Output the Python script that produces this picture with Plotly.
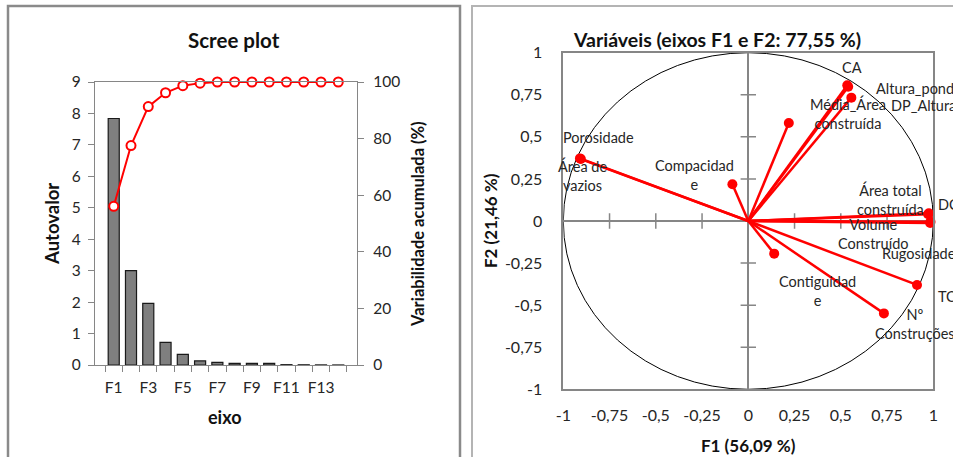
import plotly.graph_objects as go

# ---------------- data ----------------
eixos = ["F1", "F2", "F3", "F4", "F5", "F6", "F7", "F8", "F9", "F10", "F11", "F12", "F13", "F14"]
eixo_labels = ["F1", "", "F3", "", "F5", "", "F7", "", "F9", "", "F11", "", "F13", ""]
autovalor = [7.84, 3.00, 1.96, 0.72, 0.34, 0.13, 0.085, 0.05, 0.05, 0.05, 0.01, 0.006, 0.003, 0.001]
var_acum = [56.09, 77.55, 91.3, 96.2, 98.7, 99.6, 100, 100, 100, 100, 100, 100, 100, 100]

variaveis = ["Porosidade", "Área de vazios", "Compacidade", "Média_Área construída", "CA",
             "Altura_pond", "DP_Altura", "Área total construída", "DC", "Volume Construído",
             "Rugosidade", "TC", "Nº Construções", "Contiguidade"]
f1 = [-0.910, -0.905, -0.086, 0.219, 0.535, 0.540, 0.557, 0.972, 0.976, 0.985, 0.983, 0.912, 0.733, 0.140]
f2 = [0.372, 0.368, 0.218, 0.582, 0.806, 0.798, 0.733, 0.040, 0.046, -0.004, -0.012, -0.380, -0.549, -0.194]

y1_ticks = [0, 1, 2, 3, 4, 5, 6, 7, 8, 9]
y2_ticks = [0, 20, 40, 60, 80, 100]
corr_ticks = [-1, -0.75, -0.5, -0.25, 0, 0.25, 0.5, 0.75, 1]
corr_ticktext = ["-1", "-0,75", "-0,5", "-0,25", "0", "0,25", "0,5", "0,75", "1"]
inner_ticks = [-0.75, -0.5, -0.25, 0.25, 0.5, 0.75]

# label text and placement (layout only): text, x, y, anchor, pixel shift
label_layout = [
    ("Porosidade", -0.808, 0.495, "center", 0),
    ("Área de<br>vazios", -0.894, 0.269, "center", 0),
    ("Compacidad<br>e", -0.289, 0.275, "center", 0),
    ("Média_Área<br>construída", 0.537, 0.640, "center", 0),
    ("CA", 0.562, 0.913, "center", 0),
    ("Altura_pond", 0.679, 0.788, "left", 0),
    ("DP_Altura", 0.759, 0.687, "left", 0),
    ("Área total<br>construída", 0.768, 0.127, "center", 0),
    ("DC", 1.0, 0.101, "left", 3),
    ("Volume<br>Construído", 0.677, -0.077, "center", 0),
    ("Rugosidade", 0.713, -0.192, "left", 0),
    ("TC", 1.0, -0.450, "left", 3),
    ("Nº<br>Construções", 0.899, -0.612, "center", 0),
    ("Contiguidad<br>e", 0.375, -0.414, "center", 0),
]

W, H = 953, 457
FONT = "Lato, 'Open Sans', sans-serif"
GRAY = "#868686"
RED = "#ff0000"
TXT = "#262626"


def px(x):
    return x / W


def py(y):
    return 1 - y / H


fig = go.Figure()

# ---------------- scree plot ----------------
fig.add_trace(go.Bar(x=eixos, y=autovalor, marker=dict(color="#7f7f7f", line=dict(color="#1a1a1a", width=1.2)),
                     xaxis="x", yaxis="y", showlegend=False))
fig.add_trace(go.Scatter(x=eixos, y=var_acum, mode="lines+markers",
                         line=dict(color=RED, width=2),
                         marker=dict(symbol="circle", size=9, color="white", line=dict(color=RED, width=2)),
                         xaxis="x", yaxis="y2", showlegend=False, cliponaxis=False))

# ---------------- correlation circle ----------------
vx, vy = [], []
for a, b in zip(f1, f2):
    vx += [0, a, None]
    vy += [0, b, None]
fig.add_trace(go.Scatter(x=inner_ticks, y=[0] * len(inner_ticks), mode="markers",
                         marker=dict(symbol="line-ns", size=11, line=dict(color=GRAY, width=1.5)),
                         xaxis="x3", yaxis="y3", showlegend=False, hoverinfo="skip"))
fig.add_trace(go.Scatter(x=[0] * len(inner_ticks), y=inner_ticks, mode="markers",
                         marker=dict(symbol="line-ew", size=11, line=dict(color=GRAY, width=1.5)),
                         xaxis="x3", yaxis="y3", showlegend=False, hoverinfo="skip"))
fig.add_trace(go.Scatter(x=vx, y=vy, mode="lines", line=dict(color=RED, width=2.5),
                         xaxis="x3", yaxis="y3", showlegend=False, hoverinfo="skip"))
fig.add_trace(go.Scatter(x=f1, y=f2, mode="markers", text=variaveis,
                         marker=dict(color=RED, size=10),
                         xaxis="x3", yaxis="y3", showlegend=False, cliponaxis=False))

annotations = []
for txt, ax, ay, anc, sh in label_layout:
    annotations.append(dict(text=txt, x=ax, y=ay, xref="x3", yref="y3", xanchor=anc, yanchor="middle",
                            xshift=sh, showarrow=False, align="center",
                            font=dict(family=FONT, size=14.5, color=TXT)))

# titles
annotations += [
    dict(text="<b>Scree plot</b>", x=px(234), y=py(40), xref="paper", yref="paper", showarrow=False,
         xanchor="center", yanchor="middle", font=dict(family=FONT, size=20.5, color="#111")),
    dict(text="<b>eixo</b>", x=px(225), y=py(417), xref="paper", yref="paper", showarrow=False,
         xanchor="center", yanchor="middle", font=dict(family=FONT, size=18, color="#111")),
    dict(text="<b>Autovalor</b>", x=px(52), y=py(224), xref="paper", yref="paper", showarrow=False,
         textangle=-90, xanchor="center", yanchor="middle", font=dict(family=FONT, size=18.5, color="#111")),
    dict(text="<b>Variabilidade acumulada (%)</b>", x=px(418), y=py(224), xref="paper", yref="paper",
         showarrow=False, textangle=-90, xanchor="center", yanchor="middle",
         font=dict(family=FONT, size=16.5, color="#111")),
    dict(text="<b>Variáveis (eixos F1 e F2: 77,55 %)</b>", x=px(717), y=py(39), xref="paper", yref="paper",
         showarrow=False, xanchor="center", yanchor="middle", font=dict(family=FONT, size=19.5, color="#111")),
    dict(text="<b>F1 (56,09 %)</b>", x=px(748), y=py(445), xref="paper", yref="paper", showarrow=False,
         xanchor="center", yanchor="middle", font=dict(family=FONT, size=17, color="#111")),
    dict(text="<b>F2 (21,46 %)</b>", x=px(490), y=py(221), xref="paper", yref="paper", showarrow=False,
         textangle=-90, xanchor="center", yanchor="middle", font=dict(family=FONT, size=17, color="#111")),
]

shapes = [
    # panel frames
    dict(type="rect", xref="paper", yref="paper", x0=px(8), x1=px(460), y0=-0.1, y1=py(6),
         line=dict(color="#8a8a8a", width=2.5), layer="below"),
    dict(type="rect", xref="paper", yref="paper", x0=px(472), x1=1.1, y0=-0.1, y1=py(6),
         line=dict(color="#b4b4b4", width=2), layer="below"),
    # unit circle
    dict(type="circle", xref="x3", yref="y3", x0=-1, x1=1, y0=-1, y1=1,
         line=dict(color="#000000", width=1), layer="below"),
]

tickfont = dict(family=FONT, size=15.5, color=TXT)

fig.update_layout(
    template="none",
    width=W, height=H, margin=dict(l=0, r=0, t=0, b=0, autoexpand=False),
    paper_bgcolor="white", plot_bgcolor="rgba(0,0,0,0)",
    bargap=0.36, showlegend=False,
    annotations=annotations, shapes=shapes,
    xaxis=dict(domain=[px(95), px(357)], anchor="y", type="category", automargin=False, tickangle=0,
               tickmode="array", tickvals=eixos, ticktext=eixo_labels, tickson="boundaries",
               ticks="outside", ticklen=6, tickcolor=GRAY, tickwidth=1.3,
               showline=True, linecolor=GRAY, linewidth=1.3, mirror=True,
               showgrid=False, tickfont=tickfont, ticklabelstandoff=8),
    yaxis=dict(domain=[py(365), py(82)], anchor="x", range=[0, 9], tickmode="array", tickvals=y1_ticks,
               automargin=False,
               ticks="outside", ticklen=6, tickcolor=GRAY, tickwidth=1.3,
               showline=True, linecolor=GRAY, linewidth=1.3, showgrid=False, zeroline=False,
               tickfont=tickfont, ticklabelstandoff=4),
    yaxis2=dict(overlaying="y", anchor="x", side="right", range=[0, 100], tickmode="array", tickvals=y2_ticks,
                automargin=False,
                ticks="outside", ticklen=6, tickcolor=GRAY, tickwidth=1.3,
                showline=True, linecolor=GRAY, linewidth=1.3, showgrid=False, zeroline=False,
                tickfont=tickfont, ticklabelstandoff=6),
    xaxis3=dict(domain=[px(563.3), px(933.3)], anchor="y3", range=[-1, 1], tickmode="array",
                automargin=False, tickangle=0,
                tickvals=corr_ticks, ticktext=corr_ticktext, ticks="",
                showline=True, linecolor=GRAY, linewidth=1.5, mirror=True, showgrid=False,
                zeroline=True, zerolinecolor=GRAY, zerolinewidth=1.5,
                tickfont=dict(family=FONT, size=16, color=TXT), ticklabelstandoff=11),
    yaxis3=dict(domain=[py(389.3), py(52.7)], anchor="x3", range=[-1, 1], tickmode="array",
                automargin=False,
                tickvals=corr_ticks, ticktext=corr_ticktext, ticks="",
                showline=True, linecolor=GRAY, linewidth=1.5, mirror=True, showgrid=False,
                zeroline=True, zerolinecolor=GRAY, zerolinewidth=1.5,
                tickfont=dict(family=FONT, size=16, color=TXT), ticklabelstandoff=16),
)

fig.write_html("out.html", config={"displayModeBar": False},
               post_script="document.body.style.margin='0';document.body.style.overflow='hidden';")
